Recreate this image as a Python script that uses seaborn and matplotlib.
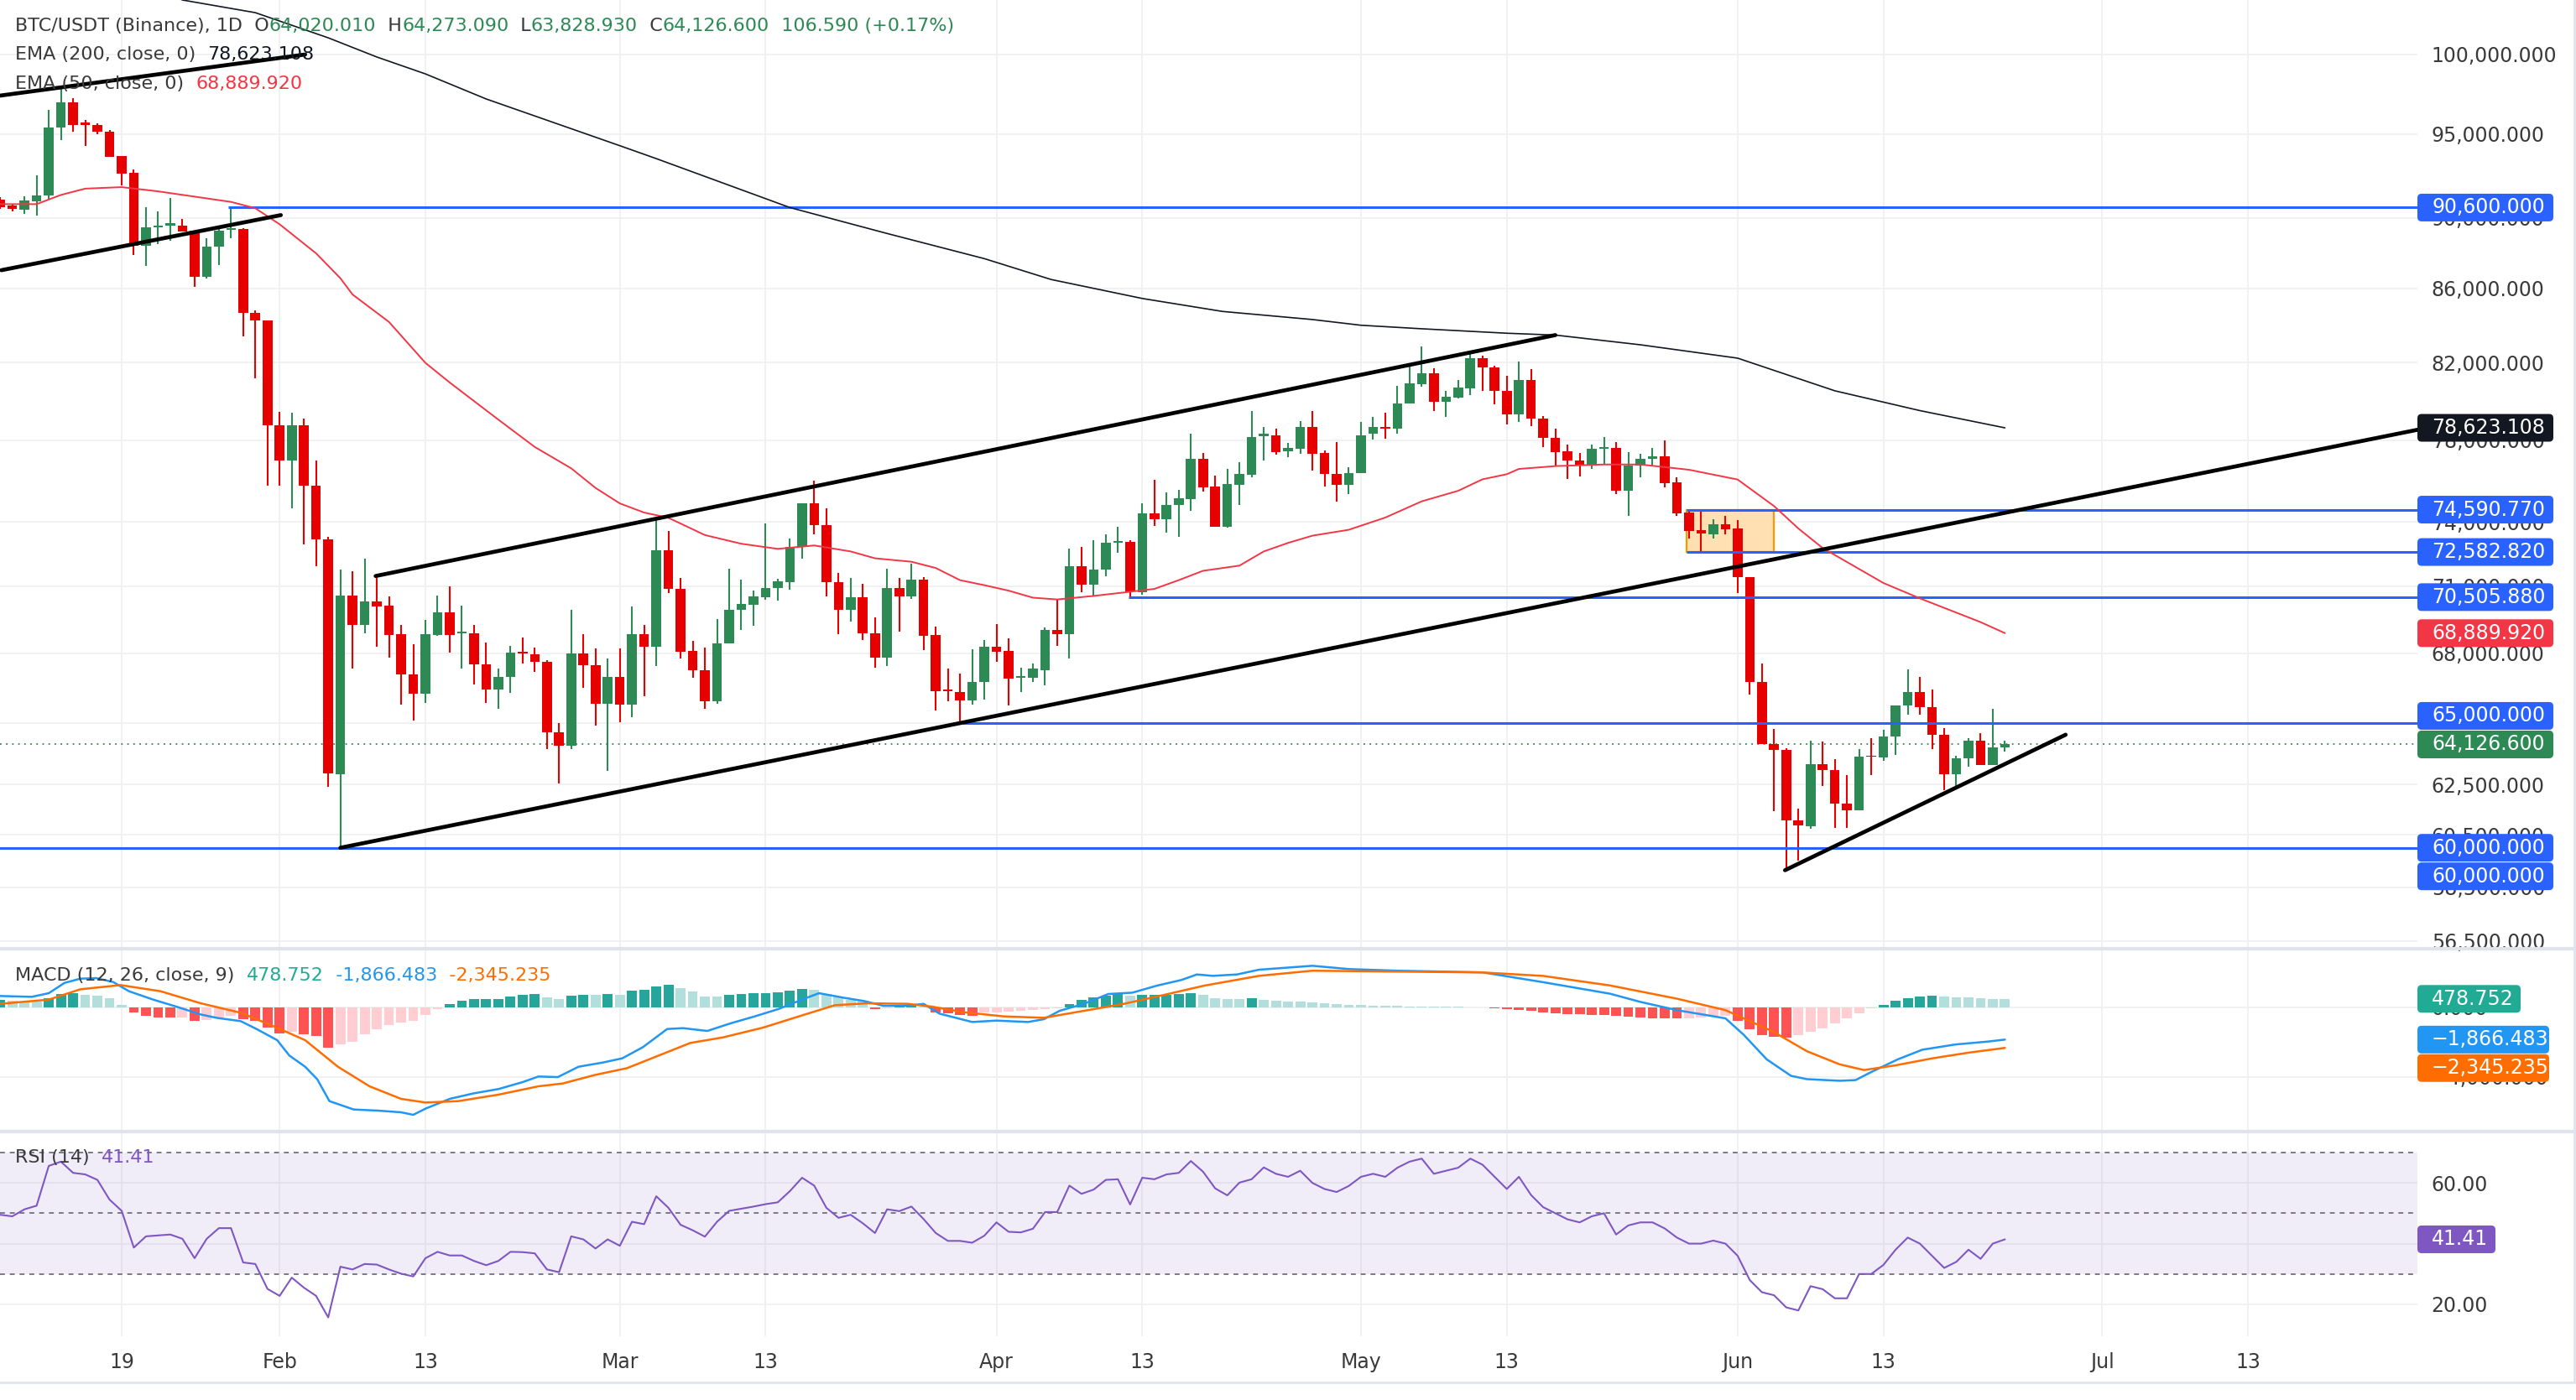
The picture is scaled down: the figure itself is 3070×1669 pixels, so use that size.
import numpy as np
import pandas as pd
import matplotlib
matplotlib.use("Agg")
import matplotlib.pyplot as plt
from matplotlib.patches import FancyBboxPatch, Rectangle
from matplotlib.lines import Line2D
from matplotlib.transforms import IdentityTransform
from matplotlib.ticker import FixedLocator, NullLocator, FuncFormatter
import seaborn as sns

# ---------------- data (days counted from 2026-01-01) ----------------
day0 = pd.Timestamp("2026-01-01")
first_candle = "2026-01-09"

opens = [91080, 90700, 90460, 90980, 91300, 95380, 96950, 95700, 95570, 95150, 93670, 92650, 88420, 89450, 89570,
         89570, 89240, 86630, 88330, 89300, 89360, 84680, 84250, 78740, 76970, 78740, 75750, 73180, 62910, 70570,
         69270, 70320, 70110, 68840, 67080, 66240, 68800, 69810, 68900, 68880, 67520, 66450, 66990, 68070, 67970,
         67630, 64640, 64080, 67990, 67470, 65840, 66980, 65790, 68860, 68300, 72680, 70880, 68110, 67250, 65950,
         68440, 69940, 70170, 70510, 70910, 71200, 72810, 74890, 73870, 71200, 69940, 70490, 68890, 67820, 70930,
         70520, 71320, 68820, 66450, 66340, 65980, 66770, 68280, 68110, 66930, 66950, 67270, 69030, 68850, 71920,
         71070, 71760, 73010, 73060, 70720, 74410, 74120, 74800, 75100, 77050, 75700, 73790, 75800, 76290, 78220,
         78260, 77430, 77570, 78650, 77370, 76310, 75770, 76350, 78310, 78650, 78570, 79860, 80880, 81430, 79940,
         80160, 80650, 82250, 81760, 80530, 79310, 81100, 79090, 78130, 77430, 76970, 76790, 77570, 77610, 75500,
         76740, 77050, 77200, 75900, 74440, 73620, 73430, 73890, 73680, 71410, 66750, 64130, 63890, 61080, 60830,
         63320, 63070, 61720, 61480, 63660, 63580, 64450, 65740, 66330, 65680, 64530, 62920, 63550, 64270, 63290,
         64020.01]
highs = [91200, 90780, 91270, 92500, 96460, 97940, 97210, 95870, 95650, 95250, 93670, 92850, 90640, 90400, 91180,
         89930, 89240, 88850, 89540, 90560, 89400, 84780, 84250, 79420, 79380, 79100, 77000, 73300, 71750, 71680,
         72280, 71470, 70540, 69270, 68400, 69480, 70570, 71000, 70130, 69250, 68490, 67330, 68320, 68700, 68260,
         67700, 65020, 69950, 68840, 68200, 67770, 68200, 70080, 69270, 74080, 73580, 71400, 68540, 68240, 69500,
         71790, 71310, 70800, 73930, 71330, 73220, 74890, 76010, 74660, 71600, 71390, 71120, 69590, 71810, 71390,
         72030, 71420, 69190, 67330, 67130, 68190, 68580, 69280, 68660, 67370, 67550, 69130, 70370, 72730, 72840,
         73140, 73410, 73760, 73140, 74890, 76020, 75430, 75530, 78340, 77380, 76230, 76570, 76910, 79490, 78650,
         78600, 77860, 78950, 79490, 77480, 77900, 76660, 78920, 79180, 79410, 80790, 81830, 82870, 81700, 80530,
         81100, 82530, 82380, 81830, 81300, 82050, 81650, 79210, 78570, 77790, 77380, 77790, 78180, 77900, 77400,
         77340, 77600, 78000, 76150, 74480, 74530, 74120, 74290, 74100, 71410, 67540, 64770, 63980, 61530, 64270,
         64240, 63520, 62880, 63930, 64390, 64750, 65770, 67290, 66970, 66430, 64800, 63670, 64390, 64600, 65610,
         64273.09]
lows = [90500, 90400, 90250, 90140, 91080, 94600, 95150, 94280, 95000, 93600, 91900, 87880, 87280, 88510, 88670,
        89200, 86100, 86540, 87310, 88850, 83390, 81150, 75750, 75750, 74640, 72950, 71920, 62390, 59990, 67320,
        68880, 68300, 67810, 65790, 65130, 65870, 68780, 68030, 67320, 66640, 65870, 65620, 66290, 67550, 67210,
        63920, 62530, 63920, 66520, 64920, 63040, 65050, 65260, 66150, 67430, 70690, 67780, 66930, 65610, 65840,
        68440, 69030, 69230, 70400, 70330, 70860, 72290, 73430, 70520, 68850, 69420, 68590, 67370, 67450, 68950,
        70440, 68160, 65540, 65950, 65000, 65800, 66010, 67630, 65760, 66310, 66770, 66620, 68310, 67780, 70720,
        70520, 71440, 72530, 70490, 70600, 73830, 73490, 73300, 74540, 75460, 73790, 73740, 74830, 76150, 76970,
        77290, 77170, 77340, 76490, 75700, 74980, 75350, 76350, 78040, 78070, 78310, 79860, 80740, 79490, 79180,
        80130, 80310, 80500, 79840, 78780, 78920, 78690, 77650, 76740, 76060, 76180, 76570, 76790, 75350, 74290,
        76150, 76700, 75650, 74290, 73230, 72530, 73230, 73420, 70700, 66210, 64130, 61420, 59110, 59500, 60740,
        62420, 60780, 60780, 61480, 62890, 63450, 63700, 65380, 65380, 63930, 62280, 62340, 63200, 63290, 63290,
        63828.93]
closes = [90620, 90500, 91020, 91300, 95400, 96950, 95570, 95570, 95110, 93630, 92620, 88420, 89450, 89570, 89690,
          89210, 86630, 88360, 89240, 89390, 84650, 84250, 78740, 76970, 78740, 75750, 73160, 62930, 70570, 69270,
          70320, 70090, 68820, 67080, 66240, 68860, 69810, 68800, 68960, 67520, 66450, 66990, 68030, 68000, 67630,
          64640, 64080, 67990, 67470, 65840, 66980, 65790, 68860, 68300, 72660, 70880, 68080, 67250, 65950, 68440,
          69940, 70200, 70530, 70910, 71230, 72810, 74890, 73870, 71200, 69940, 70490, 68890, 67820, 70930, 70520,
          71320, 68770, 66380, 66370, 65980, 66770, 68280, 68080, 66900, 67020, 67330, 69030, 68850, 71920, 71070,
          71760, 73010, 73090, 70750, 74410, 74120, 74800, 75130, 77050, 75670, 73790, 75830, 76310, 78170, 78310,
          77410, 77610, 78650, 77340, 76310, 75770, 76370, 78260, 78650, 78570, 79860, 80900, 81430, 79940, 80220,
          80700, 82250, 81750, 80500, 79310, 81100, 79090, 78130, 77390, 76970, 76790, 77570, 77650, 75500, 76740,
          77050, 77200, 75880, 74420, 73580, 73450, 73890, 73660, 71410, 66750, 64130, 63890, 61060, 60860, 63320,
          63070, 61720, 61480, 63620, 63610, 64450, 65760, 66330, 65680, 64510, 62920, 63550, 64270, 63290, 64010,
          64126.6]

ema200_day = [21, 23, 29, 35, 39, 43, 48, 59, 62, 73, 81, 89, 94.5, 102, 108.6, 116, 120, 125, 132, 136, 143,
              151, 159, 166, 173]
ema200_val = [104300, 103550, 102710, 101060, 99820, 98740, 97160, 94280, 93500, 90600, 89100, 87670, 86500,
              85450, 84740, 84300, 83990, 83800, 83560, 83460, 82940, 82230, 80520, 79500, 78623.108]

ema50_day = [8, 11, 13, 15, 18, 21, 24, 27, 29, 31, 34, 36, 37, 40, 43, 45, 49, 52, 55, 57, 59, 61, 63, 66, 69,
             72, 75, 78, 80, 83, 85, 87, 89, 91, 93, 95, 98, 101, 103, 105, 107, 110, 112, 114, 116, 119, 122,
             125, 128, 130, 132, 133, 136, 140, 143, 147, 151, 154, 156, 158, 163, 166, 171, 173]
ema50_val = [90800, 90800, 91340, 91710, 91800, 91550, 91240, 90930, 90560, 89630, 87970, 86570, 85670, 84170,
             81980, 80950, 79040, 77660, 76600, 75640, 74890, 74450, 74200, 73380, 72970, 72730, 72890, 72610,
             72290, 72130, 71840, 71280, 71050, 70800, 70480, 70400, 70560, 70750, 70880, 71280, 71710, 71950,
             72610, 73010, 73350, 73630, 74210, 74990, 75500, 76060, 76310, 76570, 76710, 76790, 76790, 76530,
             76050, 74760, 73690, 72770, 71150, 70450, 69380, 68889.92]

macd_day = [8, 10.6, 12, 13.3, 14.6, 15.9, 17.3, 18.6, 20.6, 22.5, 24.5, 25.8, 27.8, 29.1, 30.8, 31.8, 33.1, 34.1,
            35.1, 37.1, 39.1, 41, 42, 43, 45, 47, 49, 51, 52.3, 53.9, 55.6, 57.6, 59.2, 60.9, 62.9, 64.2, 66.2,
            68.1, 70.1, 72.1, 74.1, 75.4, 77.4, 79.1, 80.7, 82.7, 84, 85.3, 88, 90, 92.6, 93.9, 95.2, 97.2, 99.2,
            101.2, 103.2, 105.2, 106.5, 107.8, 109.8, 111.6, 116, 119, 123, 130, 135, 140.5, 143, 146, 150, 151.5,
            153.4, 155.4, 156.7, 159.4, 160.7, 162.1, 164.2, 166.2, 168.9, 171.6, 173]
macd_val = [644, 596, 805, 1400, 1642, 1674, 1449, 918, 435, 32, -419, -612, -805, -1256, -1900, -2785, -3430,
            -4154, -5410, -5893, -5957, -6054, -6199, -5845, -5280, -4959, -4717, -4315, -3993, -4025, -3430, -3188,
            -2946, -2302, -1256, -1208, -1369, -934, -531, -97, 467, 805, 547, 354, 80, 80, 193, -370, -853, -773,
            -853, -692, -209, 193, 757, 837, 1240, 1562, 1884, 1803, 1884, 2157, 2384, 2195, 2100, 2006, 1438, 776,
            303, -170, -643, -1589, -3008, -3955, -4144, -4238, -4200, -3700, -3000, -2450, -2150, -1980,
            -1866.483]
signal_day = [8, 12, 14.6, 17.9, 21.2, 24.5, 27.8, 30.5, 33.1, 35.8, 38.4, 41, 43, 45.7, 49, 52.3, 54.3, 56.9,
              59.6, 62.2, 64.8, 67.5, 70.8, 74.1, 76.7, 79.4, 82.7, 84.7, 87.3, 90.6, 93.9, 97.2, 100.5, 103.8,
              107.1, 111.6, 116, 123, 130, 135, 140.5, 146, 150, 153.9, 156.7, 159.4, 161.4, 164, 167, 170, 173]
signal_val = [193, 435, 1030, 1272, 918, 225, -322, -1095, -1900, -3430, -4557, -5280, -5490, -5410, -5039, -4557,
              -4395, -3912, -3510, -2785, -2061, -1739, -1175, -451, 113, 225, 193, 32, -290, -531, -612, -209, 193,
              708, 1240, 1803, 2100, 2050, 2000, 1800, 1250, 490, -170, -1400, -2535, -3292, -3620, -3350, -2950,
              -2620, -2345.235]
hist_val = [435, 390, 306, 300, 500, 757, 790, 710, 645, 500, 150,
            -290, -500, -580, -612, -600, -805, -740, -580, -500, -692, -805, -1175, -1496, -1416, -1577, -1658,
            -2350, -2140, -1980, -1545, -1256, -1014, -902, -773, -451, -97,
            177, 370, 451, 460, 483, 612, 725, 773, 564, 483, 660, 725, 710, 773, 725, 934, 982, 1175, 1288, 1095,
            886, 612, 600, 725, 773, 821, 830, 840, 934, 1062, 1014, 773, 612, 435, 370,
            -129, -48, 10, 113, 32, -322, -370, -451, -483, -322, -290, -258, -209, -161, -97, -48,
            193, 435, 548, 644, 757, 644, 708, 710, 712, 757, 805, 708, 515, 483, 467, 515,
            400, 350, 320, 300, 280, 230, 180, 150, 120, 100, 80, 60, 50, 40, 30, 20, 10, 0, -20, -60,
            -110, -170, -230, -290, -340, -380, -410, -440, -470, -520, -560, -600, -620, -640, -660, -620, -580,
            -530, -480, -800, -1250, -1600, -1700, -1750, -1600, -1400, -1200, -950, -650, -350, -80,
            150, 350, 500, 600, 650, 620, 580, 560, 520, 490, 478.752]
rsi_val = [49.5, 49.0, 51.3, 52.5, 65.6, 67.0, 63.3, 62.8, 61.0, 54.5, 50.8, 38.7, 42.4, 42.7, 43.0, 41.6, 35.2,
           41.6, 45.1, 45.1, 33.8, 33.3, 25.1, 22.8, 28.8, 25.5, 22.8, 15.7, 32.4, 31.5, 33.3, 33.1, 31.5, 30.1,
           29.2, 35.2, 37.3, 36.1, 36.1, 34.3, 32.9, 34.3, 37.3, 37.2, 36.8, 31.5, 30.6, 42.4, 41.4, 38.4, 41.4,
           39.3, 47.2, 46.4, 55.6, 51.8, 46.2, 44.4, 42.3, 47.2, 50.8, 51.5, 52.2, 53.0, 53.6, 57.3, 61.7, 59.1,
           51.8, 48.5, 49.5, 46.7, 43.5, 51.3, 50.7, 52.2, 48.1, 43.5, 40.9, 40.9, 40.3, 42.6, 47.0, 43.9, 43.7,
           44.9, 50.4, 50.4, 59.1, 56.4, 57.8, 61.0, 61.2, 52.9, 61.7, 61.2, 62.8, 63.3, 67.2, 63.7, 58.2, 55.9,
           60.1, 61.2, 65.1,
           63, 62, 64, 60, 58, 57, 59, 62, 63, 62, 65, 67, 68, 63, 64, 65, 68, 66, 62, 58, 62, 56, 52, 50, 48, 47,
           49, 50, 43, 46, 47, 47, 45, 42, 40, 40, 41, 40, 36, 28, 24, 23, 19, 18, 26, 25, 22, 22, 30, 30, 33, 38,
           42, 40, 36, 32, 34, 38, 35, 40, 41.41]

levels = [90600.0, 74590.77, 72582.82, 70505.88, 65000.0, 60000.0, 60000.0]
level_start_day = [26.8, 146.8, 146.8, 100.9, 87.2, 7.9, 36.0]
trend_start_day = [8.0, 8.1, 38.9, 36.0, 154.9]
trend_start_val = [97370, 87020, 71470, 60000, 59140]
trend_end_day = [33.1, 31.1, 136.0, 207.0, 178.0]
trend_end_val = [99980, 90160, 83460, 78530, 64530]
zone_days = [146.8, 154.0]
zone_vals = [72582.82, 74590.77]

price_ticks = [100000, 95000, 90000, 86000, 82000, 78000, 74000, 71000, 68000, 65000, 62500, 60500, 58500, 56500]
time_tick_dates = ["2026-01-19", "2026-02-01", "2026-02-13", "2026-03-01", "2026-03-13", "2026-04-01",
                   "2026-04-13", "2026-05-01", "2026-05-13", "2026-06-01", "2026-06-13", "2026-07-01", "2026-07-13"]
time_tick_labels = ["19", "Feb", "13", "Mar", "13", "Apr", "13", "May", "13", "Jun", "13", "Jul", "13"]

# ---------------- styling ----------------
GREEN = "#2d8a55"
RED = "#e60000"
BLUE = "#2962ff"
TXT = "#3a3a3a"
GRID = "#f0f0f0"
W, H = 3070, 1669

sns.set_theme(style="white")
plt.rcParams["font.family"] = ["DejaVu Sans"]

start = (pd.Timestamp(first_candle) - day0).days
day = np.arange(start, start + len(opens))
o, h, l, c = (np.array(v, dtype=float) for v in (opens, highs, lows, closes))

fig = plt.figure(figsize=(W / 100, H / 100), dpi=100)
fig.patch.set_facecolor("white")


def rect(x0, y0, x1, y1):
    return [x0 / W, 1 - y1 / H, (x1 - x0) / W, (y1 - y0) / H]


ax_p = fig.add_axes(rect(0, 0, 2881, 1131))
ax_m = fig.add_axes(rect(0, 1131, 2881, 1349), sharex=ax_p)
ax_r = fig.add_axes(rect(0, 1349, 2881, 1593), sharex=ax_p)

tick_days = [(pd.Timestamp(s) - day0).days for s in time_tick_dates]
for ax in (ax_p, ax_m, ax_r):
    ax.set_facecolor("white")
    for s in ax.spines.values():
        s.set_visible(False)
    ax.xaxis.set_major_locator(FixedLocator(tick_days))
    ax.grid(True, color=GRID, lw=1.3, zorder=0)
    ax.set_axisbelow(True)
    ax.yaxis.tick_right()
    ax.tick_params(axis="y", length=0, pad=12, labelsize=17, labelcolor=TXT)
    ax.tick_params(axis="x", length=0)
ax_p.tick_params(axis="x", labelbottom=False)
ax_m.tick_params(axis="x", labelbottom=False)
ax_r.set_xticklabels(time_tick_labels)
ax_r.tick_params(axis="x", pad=14, labelsize=17, labelcolor=TXT)
ax_p.set_xlim(7.986, 206.95)

# ---- price panel ----
ax_p.set_yscale("log")
ax_p.set_ylim(56226, 103550)
ax_p.yaxis.set_major_locator(FixedLocator(price_ticks))
ax_p.yaxis.set_minor_locator(NullLocator())
# the 65,000 tick label sits fully under its level tag
ax_p.yaxis.set_major_formatter(FuncFormatter(lambda v, p: "" if abs(v - 65000) < 1 else f"{v:,.3f}"))

up = c >= o
col = np.where(up, GREEN, RED)
ax_p.vlines(day, l, h, colors=col, lw=1.5, zorder=4)
lo = np.minimum(o, c)
hi = np.maximum(np.maximum(o, c), lo * 1.0009)
ax_p.bar(day, hi - lo, bottom=lo, width=0.8, color=col, linewidth=0, zorder=5)

ax_p.add_patch(Rectangle((zone_days[0], zone_vals[0]), zone_days[1] - zone_days[0], zone_vals[1] - zone_vals[0],
                         facecolor="#ffe0b2", edgecolor="#ff9800", lw=1.6, zorder=2))
for v, sd in zip(levels, level_start_day):
    ax_p.hlines(v, sd, 210, color=BLUE, lw=2.2, zorder=6)
ax_p.axhline(closes[-1], color=GREEN, ls=(0, (1, 3)), lw=1.3, zorder=3)

sns.lineplot(x=ema200_day, y=ema200_val, ax=ax_p, color="#131722", lw=1.2, zorder=6)
sns.lineplot(x=ema50_day, y=ema50_val, ax=ax_p, color="#f23645", lw=1.4, zorder=6)
for sd, sv, ed, ev in zip(trend_start_day, trend_start_val, trend_end_day, trend_end_val):
    ax_p.plot([sd, ed], [sv, ev], color="black", lw=3.4, solid_capstyle="round", zorder=7)
ax_p.set_xlabel("")
ax_p.set_ylabel("")

# ---- MACD panel ----
ax_m.set_ylim(-7164, 3367)
ax_m.yaxis.set_major_locator(FixedLocator([0, -4000]))
ax_m.yaxis.set_major_formatter(FuncFormatter(lambda v, p: f"{v:,.3f}".replace("-", "\u2212")))
hv = np.array(hist_val, dtype=float)
prev = np.concatenate([[hv[0]], hv[:-1]])
hcol = np.where(hv >= 0, np.where(hv >= prev, "#26a69a", "#b2dfdb"), np.where(hv <= prev, "#ff5252", "#ffcdd2"))
ax_m.bar(day, hv, width=0.82, color=hcol, linewidth=0, zorder=2)
sns.lineplot(x=macd_day, y=macd_val, ax=ax_m, color="#2196f3", lw=1.8, zorder=4)
sns.lineplot(x=signal_day, y=signal_val, ax=ax_m, color="#ff6d00", lw=1.8, zorder=4)
ax_m.set_xlabel("")
ax_m.set_ylabel("")

# ---- RSI panel ----
ax_r.set_ylim(9.5, 76.9)
ax_r.yaxis.set_major_locator(FixedLocator([20, 40, 60]))
ax_r.yaxis.set_major_formatter(FuncFormatter(lambda v, p: "" if v == 40 else f"{v:.2f}"))
ax_r.axhspan(30, 70, color="#7e57c2", alpha=0.1, lw=0, zorder=1)
for v in (70, 50, 30):
    ax_r.axhline(v, color="#787b86", ls=(0, (3, 3)), lw=1.4, zorder=2)
sns.lineplot(x=day, y=rsi_val, ax=ax_r, color="#7e57c2", lw=1.5, zorder=4)
ax_r.set_xlabel("")
ax_r.set_ylabel("")

# ---- separators / frame ----
for y in (1131, 1349):
    fig.add_artist(Line2D([0, 3068 / W], [1 - y / H] * 2, transform=fig.transFigure, color="#e0e3eb", lw=3))
fig.add_artist(Line2D([0, 3068 / W], [1 - 1648 / H] * 2, transform=fig.transFigure, color="#e0e3eb", lw=2))
fig.add_artist(Line2D([3068 / W] * 2, [1 - 1648 / H, 1], transform=fig.transFigure, color="#e0e3eb", lw=2))


# ---- legends (multi-coloured rows) ----
def text_row(ax, y, parts, size=16):
    t = fig.text(18 / W, 1 - y / H, parts[0][0], color=parts[0][1], fontsize=size, va="center", ha="left")
    for s, cc in parts[1:]:
        t = ax.annotate(s, xy=(1, 0), xycoords=t, va="bottom", ha="left", color=cc, fontsize=size,
                        annotation_clip=False, zorder=10)
        t.set_clip_on(False)


text_row(ax_p, 31, [("BTC/USDT (Binance), 1D  O", TXT), ("64,020.010", GREEN), ("  H", TXT),
                    ("64,273.090", GREEN), ("  L", TXT), ("63,828.930", GREEN), ("  C", TXT),
                    ("64,126.600", GREEN), ("  106.590 (+0.17%)", GREEN)])
text_row(ax_p, 65, [("EMA (200, close, 0)  ", TXT), ("78,623.108", "#131722")])
text_row(ax_p, 100, [("EMA (50, close, 0)  ", TXT), ("68,889.920", "#f23645")])
text_row(ax_m, 1163, [("MACD (12, 26, close, 9)  ", TXT), ("478.752", "#22ab94"), ("  -1,866.483", "#2196f3"),
                      ("  -2,345.235", "#ff6d00")])
text_row(ax_r, 1380, [("RSI (14)  ", TXT), ("41.41", "#7e57c2")])


# ---- right-hand value tags ----
def tag(ax, value, label, color, width, shift=0):
    y = ax.transData.transform((10, value))[1] - shift
    box = FancyBboxPatch((2881, y - 16.5), width, 33, boxstyle="round,pad=0,rounding_size=5",
                         transform=IdentityTransform(), facecolor=color, edgecolor="none", zorder=20)
    fig.add_artist(box)
    fig.text(2898 / W, y / H, label, color="white", fontsize=17, va="center", ha="left", zorder=21)


tag(ax_p, 90600, "90,600.000", BLUE, 162)
tag(ax_p, 78623.108, "78,623.108", "#131722", 162)
tag(ax_p, 74590.77, "74,590.770", BLUE, 162)
tag(ax_p, 72582.82, "72,582.820", BLUE, 162)
tag(ax_p, 70505.88, "70,505.880", BLUE, 162)
tag(ax_p, 68889.92, "68,889.920", "#f23645", 162)
tag(ax_p, 65000, "65,000.000", BLUE, 162, shift=-9)
tag(ax_p, 64126.6, "64,126.600", GREEN, 162)
tag(ax_p, 60000, "60,000.000", BLUE, 162)
tag(ax_p, 60000, "60,000.000", BLUE, 162, shift=34)
tag(ax_m, 478.752, "478.752", "#22ab94", 123)
tag(ax_m, -1866.483, "\u22121,866.483", "#2196f3", 157)
tag(ax_m, -2345.235, "\u22122,345.235", "#ff6d00", 157, shift=24)
tag(ax_r, 41.41, "41.41", "#7e57c2", 93)

fig.savefig("out.png", dpi=100, facecolor="white")
